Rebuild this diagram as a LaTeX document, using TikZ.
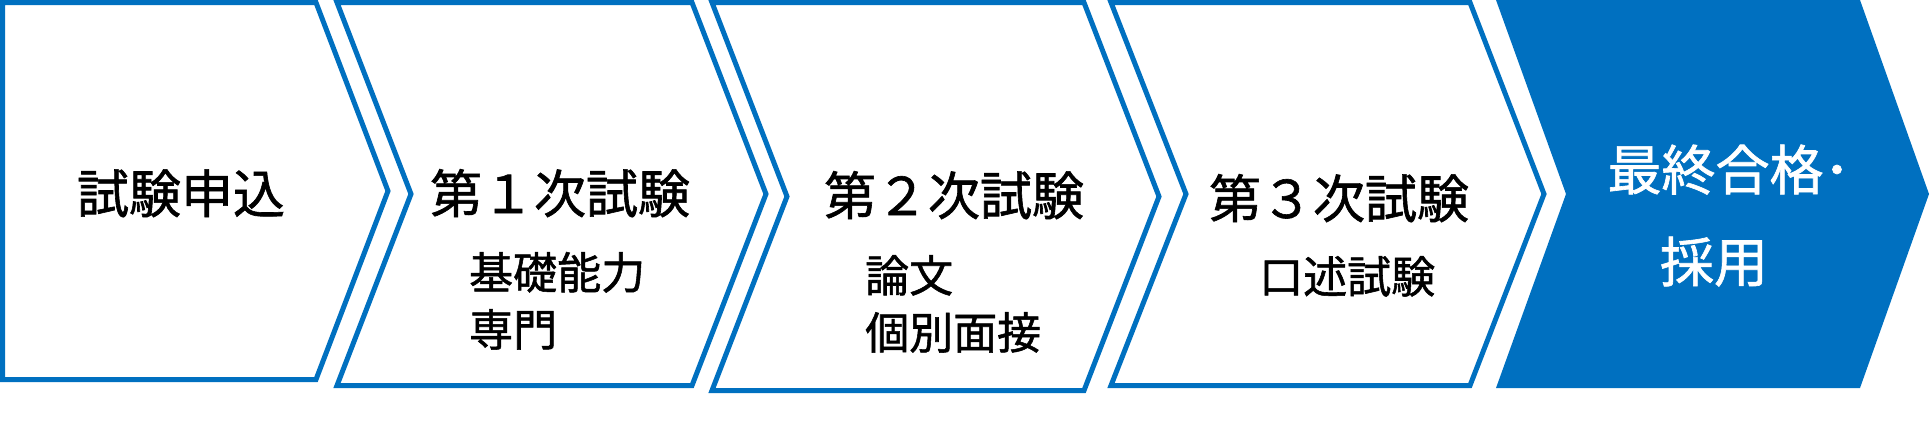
\documentclass[tikz,border=0pt]{standalone}
\usepackage{fontspec}
\newfontfamily\jpfont[FakeBold=1.2]{Noto Sans CJK JP}
\usetikzlibrary{positioning}
\definecolor{stepblue}{RGB}{0,112,192}
\tikzset{
  chevron/.style={draw=stepblue,line width=5pt,fill=white},
  ttl/.style={font=\jpfont\fontsize{52pt}{60pt}\selectfont,inner sep=0pt,anchor=base},
  sub/.style={font=\jpfont\fontsize{44pt}{52pt}\selectfont,inner sep=0pt,anchor=base west},
}

\begin{document}
\begin{tikzpicture}[x=1pt,y=-1pt]
\useasboundingbox (0,0) rectangle (1931,437);

% the five steps
\draw[chevron] (2.5,2.5) -- (316,2.5) -- (388,191) -- (316,379.5) -- (2.5,379.5) -- cycle;
\draw[chevron] (337,2.5) -- (692,2.5) -- (766,194) -- (692,385.5) -- (337,385.5) -- (411,194) -- cycle;
\draw[chevron] (712,2.5) -- (1084,2.5) -- (1159,196.5) -- (1084,390.5) -- (712,390.5) -- (787,196.5) -- cycle;
\draw[chevron] (1111,2.5) -- (1470,2.5) -- (1544,194) -- (1470,385.5) -- (1111,385.5) -- (1186,194) -- cycle;
\fill[stepblue] (1496,0) -- (1860,0) -- (1929,194) -- (1860,388) -- (1496,388) -- (1566,194) -- cycle;

% texts
\node[ttl] (apply) at (181,213) {試験申込};

\node[ttl] (first) at (560,213) {第１次試験};
\node[sub] (firsta) at (469,289) {基礎能力};
\node[sub] (firstb) at (469,346) {専門};

\node[ttl] (second) at (954,215) {第２次試験};
\node[sub] (seconda) at (865,292) {論文};
\node[sub] (secondb) at (865,349) {個別面接};

\node[ttl] (third) at (1339,218) {第３次試験};
\node[sub] (thirda) at (1259,293) {口述試験};

\node[ttl,text=white,font=\jpfont\fontsize{54pt}{60pt}\selectfont] (final) at (1729,190) {最終合格･};
\node[ttl,text=white,font=\jpfont\fontsize{54pt}{60pt}\selectfont] (finalb) at (1714,282) {採用};

\end{tikzpicture}
\end{document}
